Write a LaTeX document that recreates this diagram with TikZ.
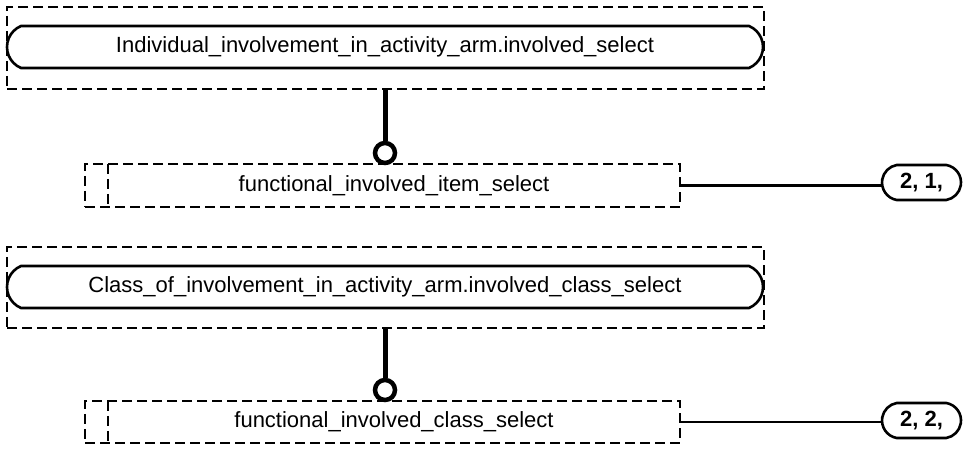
\documentclass[tikz,border=0pt]{standalone}
\usepackage{fontspec}
\setmainfont{Liberation Sans}
\usetikzlibrary{shapes.misc}
\begin{document}
\begin{tikzpicture}[x=1pt,y=1pt,
  txt/.style={font=\fontsize{22}{26}\selectfont, inner sep=0pt},
  dbox/.style={draw, rectangle, dash pattern=on 10pt off 5pt, line width=2.5pt, inner sep=0pt},
  dline/.style={draw, dash pattern=on 10pt off 5pt, line width=2.5pt},
  pill/.style={draw, rounded rectangle, rounded rectangle arc length=135, line width=2.6pt, inner sep=0pt, txt},
  oval/.style={draw, rounded rectangle, rounded rectangle arc length=160, line width=2.6pt, inner sep=0pt, font=\fontsize{22}{26}\selectfont\bfseries},
  ring/.style={draw, circle, line width=4.5pt, minimum size=20pt, inner sep=0pt},
  thick link/.style={line width=5pt},
  thin link/.style={line width=2.3pt}
]
\useasboundingbox (0,0) rectangle (963,449);

% ---------- top group ----------
\node[dbox, minimum width=757pt, minimum height=82pt] (o1) at (385.5,401) {};
\node[pill, minimum width=756pt, minimum height=42pt] (p1) at (385,402)
  {Individual\_involvement\_in\_activity\_arm.involved\_select};
\node[dbox, minimum width=595pt, minimum height=43pt] (b1) at (382.5,263.5) {};
\coordinate (d1t) at (108,285);
\coordinate (d1b) at (108,242);
\draw[dline] (d1t) -- (d1b);
\node[txt] (t1) at (394,263.5) {functional\_involved\_item\_select};
\node[ring] (c1) at (385,296) {};
\draw[thick link] (o1.south -| c1.north) -- (c1.north);
\node[oval, minimum width=79pt, minimum height=35pt] (r1) at (921.5,266.5) {2, 1,};
\draw[thin link] (b1.east) -- (b1.east -| r1.west);

% ---------- bottom group ----------
\node[dbox, minimum width=757pt, minimum height=81pt] (o2) at (385.5,161.5) {};
\node[pill, minimum width=756pt, minimum height=42pt] (p2) at (385,162)
  {Class\_of\_involvement\_in\_activity\_arm.involved\_class\_select};
\node[dbox, minimum width=595pt, minimum height=42pt] (b2) at (382.5,27) {};
\coordinate (d2t) at (108,48);
\coordinate (d2b) at (108,6);
\draw[dline] (d2t) -- (d2b);
\node[txt] (t2) at (394,27) {functional\_involved\_class\_select};
\node[ring] (c2) at (385,59) {};
\draw[thick link] (o2.south -| c2.north) -- (c2.north);
\node[oval, minimum width=79pt, minimum height=35pt] (r2) at (921.5,28.5) {2, 2,};
\draw[thin link] (b2.east) -- (b2.east -| r2.west);
\end{tikzpicture}
\end{document}
